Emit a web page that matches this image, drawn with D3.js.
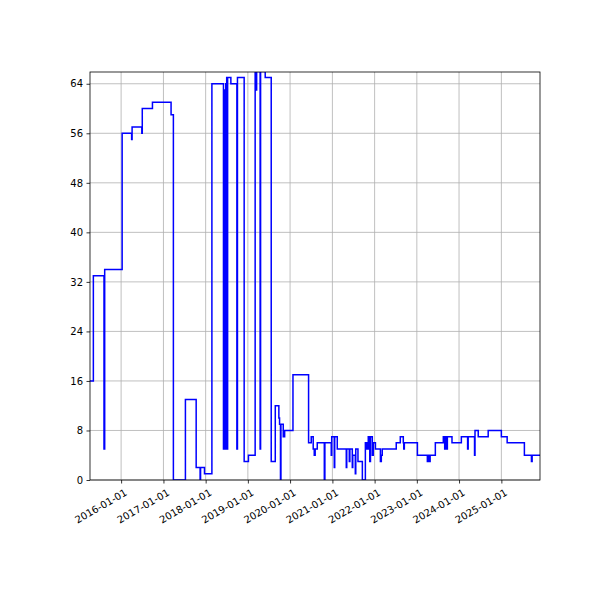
<!DOCTYPE html>
<html><head><meta charset="utf-8">
<script src="https://cdn.jsdelivr.net/npm/d3@7"></script>
<style>body{margin:0;background:#fff}</style></head>
<body><svg id="c" width="600" height="600"></svg>
<script>
const dates = ["2015-04-07","2015-05-06","2015-08-06","2015-08-12","2016-01-10","2016-04-01","2016-04-05","2016-06-28","2016-07-02","2016-09-28","2017-03-08","2017-03-28","2017-07-10","2017-10-11","2017-11-14","2017-11-18","2017-12-22","2018-02-24","2018-06-04","2018-06-08","2018-06-12","2018-06-16","2018-06-20","2018-06-24","2018-06-28","2018-07-02","2018-07-06","2018-07-10","2018-08-07","2018-09-28","2018-10-03","2018-11-30","2019-01-06","2019-03-05","2019-03-12","2019-03-18","2019-04-17","2019-04-21","2019-05-31","2019-07-22","2019-08-26","2019-09-26","2019-10-02","2019-10-10","2019-10-14","2019-11-03","2019-11-15","2020-01-26","2020-06-09","2020-07-02","2020-07-19","2020-07-28","2020-08-05","2020-08-23","2020-10-23","2020-10-28","2020-11-17","2020-12-22","2020-12-26","2021-01-17","2021-01-21","2021-02-12","2021-05-01","2021-05-05","2021-05-27","2021-06-01","2021-06-22","2021-06-26","2021-07-18","2021-07-22","2021-08-10","2021-09-17","2021-10-13","2021-10-25","2021-11-07","2021-11-20","2021-11-26","2021-12-12","2021-12-20","2022-01-08","2022-02-20","2022-02-28","2022-03-08","2022-06-03","2022-07-07","2022-08-11","2022-09-06","2022-09-10","2022-09-15","2023-01-06","2023-04-02","2023-04-08","2023-04-20","2023-04-26","2023-06-10","2023-08-18","2023-08-30","2023-09-04","2023-09-16","2023-09-22","2023-11-01","2024-01-21","2024-03-15","2024-03-20","2024-05-14","2024-05-18","2024-06-15","2024-09-09","2025-01-01","2025-02-20","2025-07-19","2025-09-18","2025-09-24","2025-12-01"];
const values = [16,33,5,34,56,55,57,56,60,61,59,0,13,2,0,2,1,64,5,63,5,63,5,64,5,65,5,65,64,5,65,3,4,66,63,66,5,66,65,3,12,10,9,0,9,7,8,17,6,7,5,4,5,6,0,6,6,4,7,2,7,5,2,5,3,5,2,4,1,5,3,0,6,5,7,3,7,4,6,5,3,4,5,5,6,7,6,5,6,4,3,4,3,4,6,7,5,7,5,7,6,7,5,7,4,8,7,8,7,6,4,3,4,4];
const yTicks = [0,8,16,24,32,40,48,56,64];
const xTickYears = ["2016-01-01","2017-01-01","2018-01-01","2019-01-01","2020-01-01","2021-01-01","2022-01-01","2023-01-01","2024-01-01","2025-01-01"];

const parse = d3.timeParse("%Y-%m-%d");
const data = dates.map((d,i)=>({t:parse(d),v:values[i]}));
const L=90,R=540,T=72,B=480;
const x = d3.scaleTime().domain([parse("2015-04-07"),parse("2025-12-01")]).range([L,R]);
const y = d3.scaleLinear().domain([0,65.9]).range([B,T]);
const svg = d3.select("#c");
const font = "DejaVu Sans, sans-serif";
const xt = xTickYears.map(parse);
// grid
svg.append("g").selectAll("line").data(xt).join("line")
  .attr("x1",d=>x(d)).attr("x2",d=>x(d)).attr("y1",T).attr("y2",B).attr("stroke","#b0b0b0").attr("stroke-width",0.8);
svg.append("g").selectAll("line").data(yTicks).join("line")
  .attr("x1",L).attr("x2",R).attr("y1",d=>y(d)).attr("y2",d=>y(d)).attr("stroke","#b0b0b0").attr("stroke-width",0.8);
const clip = svg.append("clipPath").attr("id","cp").append("rect").attr("x",L).attr("y",T).attr("width",R-L).attr("height",B-T);
svg.append("path").datum(data).attr("clip-path","url(#cp)")
  .attr("d",d3.line().x(d=>x(d.t)).y(d=>y(d.v)).curve(d3.curveStepAfter))
  .attr("fill","none").attr("stroke","#0000ff").attr("stroke-width",1.5);
svg.append("rect").attr("x",L).attr("y",T).attr("width",R-L).attr("height",B-T).attr("fill","none").attr("stroke","#000").attr("stroke-width",0.8);
// axes
const xa = svg.append("g").attr("transform",`translate(0,${B})`)
  .call(d3.axisBottom(x).tickValues(xt).tickFormat(d3.timeFormat("%Y-%m-%d")).tickSize(3.5).tickSizeOuter(0));
xa.select(".domain").remove();
xa.selectAll("text").attr("font-family",font).attr("font-size",10).attr("fill","#000")
  .attr("text-anchor","end").attr("dx",0).attr("dy",0)
  .attr("transform","translate(3,9) rotate(-30)");
const ya = svg.append("g").attr("transform",`translate(${L},0)`)
  .call(d3.axisLeft(y).tickValues(yTicks).tickSize(3.5).tickSizeOuter(0).tickPadding(3.5));
ya.select(".domain").remove();
ya.selectAll("text").attr("font-family",font).attr("font-size",10).attr("fill","#000");
svg.selectAll(".tick line").attr("stroke","#000").attr("stroke-width",0.8);
</script></body></html>
